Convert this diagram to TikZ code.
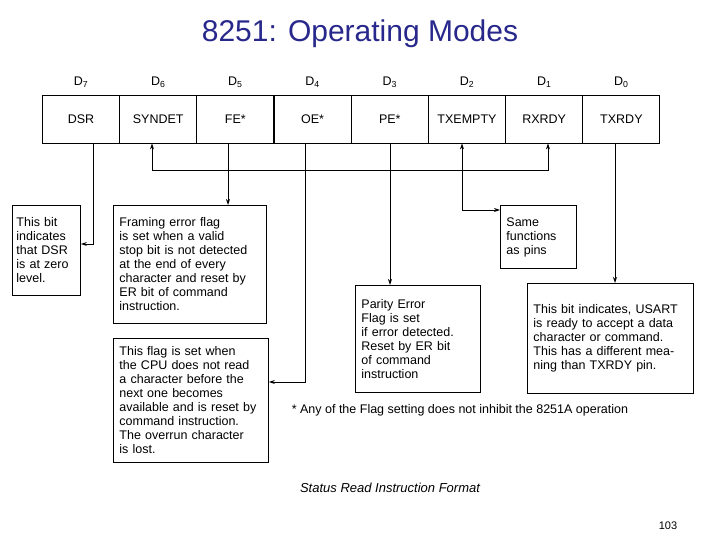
\documentclass[tikz,border=0pt]{standalone}
\usepackage{fontspec}
\setmainfont{Liberation Sans}
\usetikzlibrary{arrows.meta}
\definecolor{titleblue}{RGB}{40,40,140}
\tikzset{
  bit/.style={draw, minimum width=77pt, minimum height=48pt, font=\fontsize{12.5}{14}\selectfont},
  note/.style={draw, anchor=north west, align=left, inner sep=6pt, font=\fontsize{12.5}{14}\selectfont},
  lbl/.style={font=\fontsize{12.5}{14}\selectfont},
  arr/.style={-{Stealth[length=6pt,width=4pt]}}
}
\begin{document}
\begin{tikzpicture}[x=1pt,y=-1pt,line width=0.9pt]
\useasboundingbox (0,0) rectangle (720,540);
\node[text=titleblue, font=\fontsize{30}{34}\selectfont] (title) at (360,34) {8251: Operating Modes};
% register cells
\foreach \lab/\n [count=\i from 0] in {DSR/7,SYNDET/6,FE*/5,OE*/4,PE*/3,TXEMPTY/2,RXRDY/1,TXRDY/0}{
  \node[bit] (b\n) at ({81+77.2*\i},119) {\lab};
  \node[lbl] (d\n) at ({81+77.2*\i},82) {D\textsubscript{\n}};
}
% notes
\node[note, inner sep=4pt, text width=60pt, minimum height=90pt] (dsr) at (12,205) {This bit\\ indicates\\ that DSR\\ is at zero\\ level.};
\node[note, text width=141pt, minimum height=118pt] (fe) at (113,205) {Framing error flag\\ is set when a valid\\ stop bit is not detected\\ at the end of every\\ character and reset by\\ ER bit of command\\ instruction.};
\node[note, text width=64pt, minimum height=63pt] (same) at (500,205) {Same\\ functions\\ as pins};
\node[note, text width=143pt, minimum height=124pt] (oe) at (113,338) {This flag is set when\\ the CPU does not read\\ a character before the\\ next one becomes\\ available and is reset by\\ command instruction.\\ The overrun character\\ is lost.};
\node[note, text width=113pt, minimum height=107pt] (pe) at (355,285) {Parity Error\\ Flag is set\\ if error detected.\\ Reset by ER bit\\ of command\\ instruction};
\node[note, text width=154pt, minimum height=110pt] (txrdy) at (527,283) {\\[-6pt]This bit indicates, USART\\ is ready to accept a data\\ character or command.\\ This has a different mea-\\ ning than TXRDY pin.};
% connectors
\draw[arr] (b7.south -| 93,0) |- (dsr.east |- 0,244);
\draw[arr] (b5.south -| 228,0) -- (fe.north -| 228,0);
\draw[arr] (152,170) -- (b6.south -| 152,0);
\draw[arr] (152,170) -- (548,170) -- (b1.south -| 548,0);
\draw[arr] (462,210) -- (b2.south -| 462,0);
\draw[arr] (462,170) |- (same.west |- 0,210);
\draw[arr] (b4.south -| 305,0) |- (oe.east |- 0,382);
\draw[arr] (b3.south -| 390,0) -- (pe.north -| 390,0);
\draw[arr] (b0.south -| 615,0) -- (txrdy.north -| 615,0);
% texts
\node[lbl, anchor=west] (star) at (288,410) {* Any of the Flag setting does not inhibit the 8251A operation};
\node[font=\fontsize{13}{15}\selectfont\itshape] (cap) at (390,488) {Status Read Instruction Format};
\node[font=\fontsize{11}{13}\selectfont] (pg) at (668,526) {103};
\end{tikzpicture}
\end{document}
